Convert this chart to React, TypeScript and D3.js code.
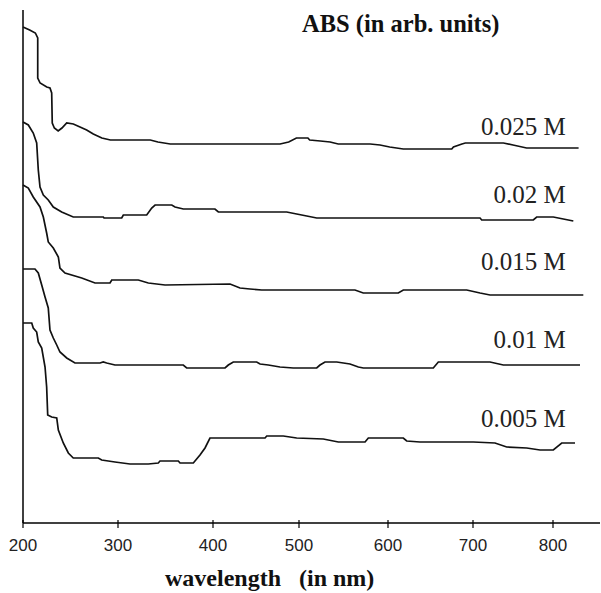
import React from "react";
import * as d3 from "d3";

// wavelength (nm), ABS (arb. units)
const s0025: [number, number][] = [
  [200, 4.96], [207, 4.93], [213, 4.9], [215.5, 4.85], [215.5, 4.45], [218, 4.4], [225, 4.36], [228.4, 4.35],
  [230.2, 4.3], [230.8, 4.0], [233, 3.95], [237, 3.92], [241, 3.95], [246, 4.0], [253, 3.99], [260, 3.96],
  [267, 3.93], [274, 3.89], [283, 3.85], [292, 3.83], [334, 3.83], [342, 3.81], [355, 3.79], [478, 3.79],
  [488, 3.81], [497, 3.85], [510, 3.85], [512, 3.83], [524, 3.82], [535, 3.81], [544, 3.79], [580, 3.79],
  [591, 3.78], [602, 3.76], [618, 3.74], [675, 3.74], [677, 3.76], [687, 3.79], [691, 3.8], [738, 3.8],
  [750, 3.78], [767, 3.75], [832, 3.75],
];
const s002: [number, number][] = [
  [200, 4.01], [205.6, 3.98], [210.8, 3.9], [214.4, 3.8], [216.1, 3.53], [217.9, 3.36], [221.4, 3.28],
  [226.6, 3.23], [231.9, 3.16], [240.7, 3.11], [252.9, 3.06], [284.5, 3.06], [285.3, 3.05], [303.9, 3.05],
  [305.6, 3.08], [330.2, 3.08], [335.5, 3.15], [339, 3.18], [356.6, 3.18], [360, 3.16], [368.8, 3.14],
  [402.3, 3.14], [406.2, 3.11], [485.7, 3.11], [497.3, 3.09], [508.7, 3.07], [519.9, 3.05], [708.8, 3.05],
  [710.9, 3.03], [775.4, 3.03], [779.6, 3.06], [800.4, 3.06], [812.9, 3.04], [825.4, 3.02],
];
const s0015: [number, number][] = [
  [200, 3.38], [205.6, 3.35], [210.8, 3.26], [217.9, 3.16], [221.4, 3.06], [224.9, 2.9], [226.6, 2.81],
  [231.9, 2.75], [237.2, 2.66], [238.9, 2.55], [244.2, 2.5], [261.8, 2.45], [275.8, 2.4], [291.6, 2.4],
  [293.4, 2.43], [321.4, 2.43], [331.9, 2.4], [349.5, 2.38], [419.8, 2.39], [431.4, 2.35], [443, 2.34],
  [456.6, 2.33], [562.9, 2.33], [572.2, 2.3], [612.1, 2.3], [618, 2.33], [692.6, 2.33], [708.8, 2.3],
  [721.3, 2.28], [837.9, 2.28],
];
const s001: [number, number][] = [
  [200, 2.54], [212.6, 2.54], [216.1, 2.5], [219.7, 2.38], [223.2, 2.26], [226.6, 2.15], [228.4, 1.93],
  [231.9, 1.85], [235.5, 1.78], [238.9, 1.71], [246, 1.65], [254.7, 1.6], [281.1, 1.6], [284.5, 1.61],
  [288.1, 1.6], [296.8, 1.58], [368.7, 1.58], [372.3, 1.55], [414, 1.55], [417.8, 1.58], [423.6, 1.61],
  [450.8, 1.61], [454.7, 1.59], [464.3, 1.58], [477.9, 1.56], [493.4, 1.55], [519.9, 1.55], [523.6, 1.58],
  [529.2, 1.61], [542.4, 1.61], [557.3, 1.59], [566.7, 1.56], [572.3, 1.55], [653.3, 1.55], [659.2, 1.61],
  [721.3, 1.61], [737.9, 1.58], [833.8, 1.58],
];
const s0005: [number, number][] = [
  [200, 2.0], [209.2, 2.0], [210.8, 1.95], [214.4, 1.91], [216.1, 1.81], [219.7, 1.75], [223.2, 1.56],
  [224.9, 1.36], [226, 1.08], [230.2, 1.06], [235.5, 1.05], [237.2, 0.93], [242.4, 0.8], [247.7, 0.7],
  [252.9, 0.65], [279.3, 0.65], [282.8, 0.63], [296.8, 0.61], [312.6, 0.59], [331.9, 0.59], [342.4, 0.6],
  [344.2, 0.62], [363.5, 0.62], [365.3, 0.6], [379.3, 0.6], [386.3, 0.68], [391.6, 0.75], [396.8, 0.85],
  [460.5, 0.85], [462.5, 0.87], [481.7, 0.87], [497.3, 0.85], [527.3, 0.84], [544.2, 0.81], [574.2, 0.81],
  [577.9, 0.85], [618, 0.85], [622, 0.82], [637.6, 0.81], [700.4, 0.81], [727.5, 0.8], [742.1, 0.76],
  [767.1, 0.75], [783.8, 0.73], [800.4, 0.73], [810.9, 0.8], [827.5, 0.8],
];

const seriesNames = ["0.025 M", "0.02 M", "0.015 M", "0.01 M", "0.005 M"];
const seriesData = [s0025, s002, s0015, s001, s0005];
const labelLevels = [3.88, 3.2, 2.53, 1.75, 0.96];
const xTicks = [200, 300, 400, 500, 600, 700, 800];
const xTitle = "wavelength   (in nm)";
const yTitle = "ABS (in arb. units)";

const W = 601;
const H = 593;

export default function App() {
  const x = d3.scaleLinear().domain(xTicks).range([23, 118, 213, 299, 388, 473, 553]);
  const y = d3.scaleLinear().domain([0, 5.13]).range([523, 10]);
  const line = d3
    .line<[number, number]>()
    .x((d) => x(d[0]))
    .y((d) => y(d[1]));
  const xMax = x.invert(600);
  const labelX = x(816);

  return (
    <svg
      width={W}
      height={H}
      style={{ position: "absolute", left: 0, top: 0, background: "#fff" }}
    >
      {/* axes */}
      <line x1={x(200)} x2={x(200)} y1={y(5.13)} y2={y(0)} stroke="#000" strokeWidth={1.5} />
      <line x1={x(200)} x2={x(xMax)} y1={y(0)} y2={y(0)} stroke="#000" strokeWidth={1.5} />
      {xTicks.map((t) => (
        <g key={t}>
          <line x1={x(t)} x2={x(t)} y1={y(0) - 3} y2={y(0) + 5} stroke="#000" strokeWidth={1.2} />
          <text
            x={x(t)}
            y={551}
            textAnchor="middle"
            fontFamily="Liberation Sans, Arial, sans-serif"
            fontSize={17}
            fill="#222"
          >
            {t}
          </text>
        </g>
      ))}
      {/* series */}
      {seriesData.map((s, i) => (
        <path key={i} d={line(s) || ""} fill="none" stroke="#111" strokeWidth={1.7} />
      ))}
      {seriesNames.map((n, i) => (
        <text
          key={n}
          x={labelX}
          y={y(labelLevels[i])}
          textAnchor="end"
          fontFamily="Liberation Serif, Times New Roman, serif"
          fontSize={25}
          fill="#222"
        >
          {n}
        </text>
      ))}
      <text
        x={302}
        y={32}
        fontFamily="Liberation Serif, Times New Roman, serif"
        fontWeight="bold"
        fontSize={24.5}
        fill="#111"
      >
        {yTitle}
      </text>
      <text
        x={165}
        y={586}
        fontFamily="Liberation Serif, Times New Roman, serif"
        fontWeight="bold"
        fontSize={24}
        fill="#111"
        style={{ whiteSpace: "pre" }}
      >
        {xTitle}
      </text>
    </svg>
  );
}
